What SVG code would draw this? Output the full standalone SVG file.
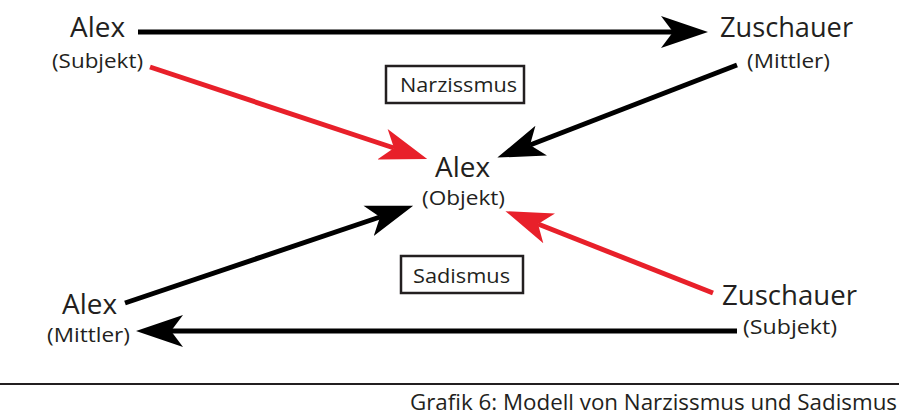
<svg xmlns="http://www.w3.org/2000/svg" width="899" height="417" viewBox="0 0 899 417">
<style>
text{font-family:"Open Sans","Noto Sans","Liberation Sans",sans-serif;fill:#231f20}
.big{font-size:27px}
.sm{font-size:19.5px}
.box{fill:#fff;stroke:#231f20;stroke-width:2.5}
.blk{stroke:#000;stroke-width:5;fill:none}
.red{stroke:#e8202a;stroke-width:5;fill:none}
</style>
<defs>
<marker id="ab" markerUnits="userSpaceOnUse" orient="auto" markerWidth="48" markerHeight="34" refX="12" refY="17" viewBox="0 0 48 34">
<path d="M0,1 L47,17 L0,33 L12,17 Z" fill="#000"/>
</marker>
<marker id="ar" markerUnits="userSpaceOnUse" orient="auto" markerWidth="48" markerHeight="34" refX="12" refY="17" viewBox="0 0 48 34">
<path d="M0,1 L47,17 L0,33 L12,17 Z" fill="#e8202a"/>
</marker>
</defs>
<g id="connectors">
<line class="blk" x1="138" y1="32" x2="673" y2="32" marker-end="url(#ab)"/>
<line class="red" x1="150" y1="67" x2="394" y2="148" marker-end="url(#ar)"/>
<line class="blk" x1="737" y1="65" x2="530" y2="145" marker-end="url(#ab)"/>
<line class="blk" x1="125" y1="303" x2="380" y2="217" marker-end="url(#ab)"/>
<line class="red" x1="713" y1="293" x2="538" y2="224" marker-end="url(#ar)"/>
<line class="blk" x1="737" y1="331" x2="171" y2="331" marker-end="url(#ab)"/>
</g>
<g id="alex-subjekt">
<text class="big" x="70" y="37" textLength="55" lengthAdjust="spacingAndGlyphs">Alex</text>
<text class="sm" x="52" y="68" textLength="91" lengthAdjust="spacingAndGlyphs">(Subjekt)</text>
</g>
<g id="zuschauer-mittler">
<text class="big" x="720" y="37" textLength="133" lengthAdjust="spacingAndGlyphs">Zuschauer</text>
<text class="sm" x="747" y="68" textLength="83" lengthAdjust="spacingAndGlyphs">(Mittler)</text>
</g>
<g id="narzissmus">
<rect class="box" x="386" y="66" width="138" height="37"/>
<text class="sm" x="400" y="92" textLength="117" lengthAdjust="spacingAndGlyphs">Narzissmus</text>
</g>
<g id="alex-objekt">
<text class="big" x="435" y="177" textLength="55" lengthAdjust="spacingAndGlyphs">Alex</text>
<text class="sm" x="422" y="205" textLength="83" lengthAdjust="spacingAndGlyphs">(Objekt)</text>
</g>
<g id="sadismus">
<rect class="box" x="401" y="256" width="122" height="37"/>
<text class="sm" x="413" y="283" textLength="97" lengthAdjust="spacingAndGlyphs">Sadismus</text>
</g>
<g id="alex-mittler">
<text class="big" x="62" y="314" textLength="55" lengthAdjust="spacingAndGlyphs">Alex</text>
<text class="sm" x="47" y="342" textLength="83" lengthAdjust="spacingAndGlyphs">(Mittler)</text>
</g>
<g id="zuschauer-subjekt">
<text class="big" x="722" y="305" textLength="135" lengthAdjust="spacingAndGlyphs">Zuschauer</text>
<text class="sm" x="743" y="334" textLength="94" lengthAdjust="spacingAndGlyphs">(Subjekt)</text>
</g>
<g id="caption">
<line x1="0" y1="384" x2="899" y2="384" stroke="#231f20" stroke-width="2"/>
<text x="410" y="410" font-size="22" textLength="487" lengthAdjust="spacingAndGlyphs">Grafik 6: Modell von Narzissmus und Sadismus</text>
</g>
</svg>
